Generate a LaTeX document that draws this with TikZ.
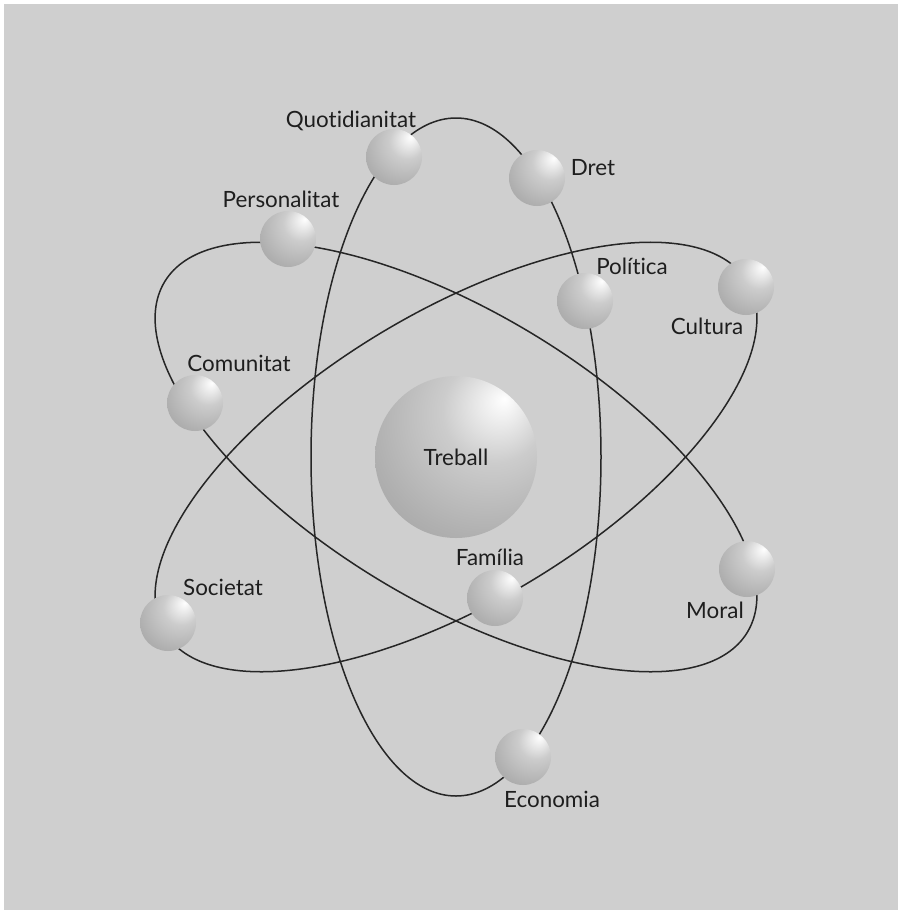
\documentclass[tikz,border=0pt]{standalone}
\usepackage{fontspec}
\setmainfont{Lato}[Ligatures=NoCommon]
\usetikzlibrary{positioning}
\definecolor{backdrop}{HTML}{CFCFCF}
\definecolor{orbitline}{HTML}{262626}
\definecolor{labelink}{HTML}{1E1E1E}
\pgfdeclareradialshading{sphere}{\pgfpoint{15bp}{18bp}}{%
  color(0bp)=(white); color(4bp)=(white!95!black); color(16bp)=(black!20);
  color(34bp)=(black!31); color(55bp)=(black!42); color(75bp)=(black!49)}

\begin{document}
\begin{tikzpicture}[x=0.5pt, y=-0.5pt,
      orbit/.style={draw=orbitline, line width=0.75pt},
      atom/.style={circle, shade, shading=sphere, minimum size=28pt, inner sep=0pt},
      nucleus/.style={atom, minimum size=81pt, font=\fontsize{11.2}{13}\selectfont, text=labelink},
      lbl/.style={font=\fontsize{11.2}{13}\selectfont, text=labelink, inner sep=0pt}]
    \useasboundingbox (0,0) rectangle (899,911);
    \fill[backdrop] (4,4) rectangle (898,910);

    % orbits round the core
    \coordinate (core) at (456,457);
    \draw[orbit] (core) ellipse [x radius=72.5pt, y radius=169.5pt];
    \draw[orbit, rotate around={31:(core)}] (core) ellipse [x radius=170pt, y radius=72.5pt];
    \draw[orbit, rotate around={-31:(core)}] (core) ellipse [x radius=170pt, y radius=72.5pt];

    % spheres on the orbits
    \node[atom] (quot) at (394,157) {};
    \node[atom] (dret) at (537,178) {};
    \node[atom] (pers) at (288,239) {};
    \node[atom] (poli) at (585,301) {};
    \node[atom] (cult) at (746,287) {};
    \node[atom] (comu) at (195,403) {};
    \node[atom] (soci) at (168,623) {};
    \node[atom] (fami) at (495,598) {};
    \node[atom] (mora) at (747,569) {};
    \node[atom] (econ) at (523,757) {};
    \node[nucleus] (treb) at (core) {Treball};

    % labels
    \node[lbl] (quotlab) at (351,121) {Quotidianitat};
    \node[lbl] (dretlab) at (593,168) {Dret};
    \node[lbl] (perslab) at (281,199) {Personalitat};
    \node[lbl] (polilab) at (632,266) {Política};
    \node[lbl] (cultlab) at (707,326) {Cultura};
    \node[lbl] (comulab) at (239,363) {Comunitat};
    \node[lbl] (socilab) at (223,587) {Societat};
    \node[lbl] (familab) at (490,557) {Família};
    \node[lbl] (moralab) at (715,610) {Moral};
    \node[lbl] (econlab) at (552,799) {Economia};
\end{tikzpicture}
\end{document}
